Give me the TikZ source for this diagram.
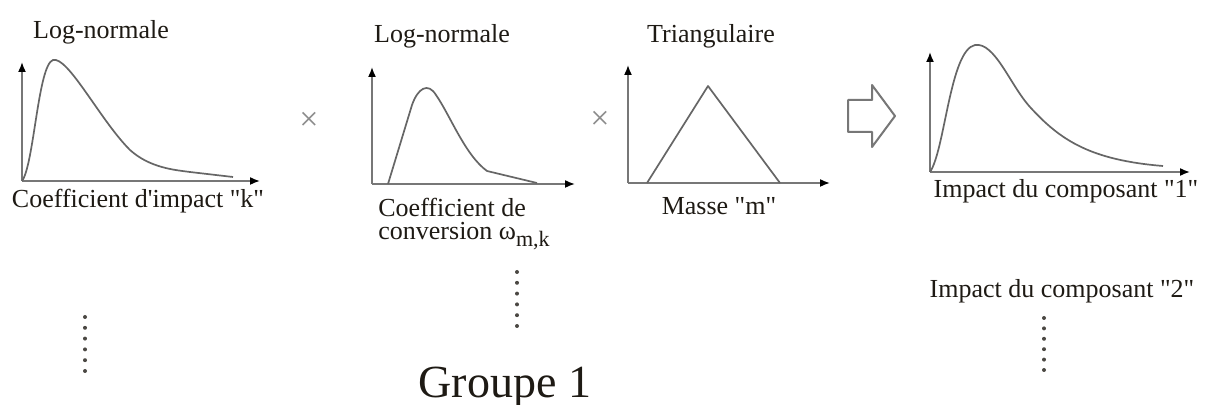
\documentclass[tikz,border=0pt]{standalone}
\usepackage{fontspec}
\setmainfont{Liberation Serif}[Ligatures=TeXOff]
\usetikzlibrary{arrows.meta}
\definecolor{ink}{HTML}{1E1A14}
\definecolor{curve}{HTML}{666666}
\definecolor{axis}{HTML}{777777}

\begin{document}
\begin{tikzpicture}[x=0.5pt, y=-0.5pt, text=ink,
    axe/.style={axis, line width=.8pt, -{Latex[length=5pt, width=4pt, black]}},
    loi/.style={curve, line width=.85pt, line join=round},
    lbl/.style={font=\fontsize{13}{15}\selectfont, inner sep=0pt, anchor=base},
    fois/.style={font=\fontsize{17}{17}\selectfont, text=black!45, inner sep=0pt}]
  \fill[white] (0,0) rectangle (1209,405);
  \useasboundingbox (0,0) rectangle (1209,405);
  % A: impact coefficient -- log-normal
  \begin{scope}[shift={(22,181)}]
    \coordinate (oA) at (0,0);
    \draw[axe] (oA) -- ++(0,-119);
    \draw[axe] (oA) -- ++(238,0);
    \draw[loi] (oA) .. controls (12,-16) and (16,-116) .. (31,-121)
      .. controls (46,-125) and (78,-61) .. (108,-31)
      .. controls (128,-13) and (153,-11) .. (168,-9) -- (211,-4);
    \node[lbl] (loiA) at (79,-142) {Log-normale};
    \node[lbl] (varA) at (116,27) {Coefficient d'impact "k"};
    \foreach \k in {0,...,5} \fill[ink!80] (63,136+\k*10.8) circle (2);
  \end{scope}
  \node[fois] (times1) at (309,121) {×};
  % B: conversion coefficient -- log-normal
  \begin{scope}[shift={(372,184)}]
    \coordinate (oB) at (0,0);
    \draw[axe] (oB) -- ++(0,-117);
    \draw[axe] (oB) -- ++(203,0);
    \draw[loi] (16,0) -- (40,-79) .. controls (46,-96) and (56,-102) .. (64,-89)
      .. controls (78,-69) and (93,-29) .. (115,-13) -- (165,-1);
    \node[lbl] (loiB) at (70,-141) {Log-normale};
    \node[lbl, anchor=base west] (varB) at (6,33) {Coefficient de};
    \node[lbl, anchor=base west] (varB2) at (6,56)
      {conversion ω\raisebox{-3.5pt}{\fontsize{11}{11}\selectfont m,k}};
    \foreach \k in {0,...,5} \fill[ink!80] (145,88+\k*10.8) circle (2);
  \end{scope}
  \node[fois] (times2) at (600,120) {×};
  % C: mass -- triangular
  \begin{scope}[shift={(628,183)}]
    \coordinate (oC) at (0,0);
    \draw[axe] (oC) -- ++(0,-118);
    \draw[axe] (oC) -- ++(202,0);
    \draw[loi] (19,0) -- (80,-97) -- (152,0);
    \node[lbl] (loiC) at (83,-140) {Triangulaire};
    \node[lbl] (varC) at (91,32) {Masse "m"};
  \end{scope}
  % hollow block arrow
  \draw[axis, line width=1pt, line join=round] (848,100) -- (872,100) -- (872,85)
    -- (895,116) -- (872,147) -- (872,132) -- (848,132) -- cycle;
  % D: component impact
  \begin{scope}[shift={(930,172)}]
    \coordinate (oD) at (0,0);
    \draw[axe] (oD) -- ++(0,-120);
    \draw[axe] (oD) -- ++(260,0);
    \draw[loi] (oD) .. controls (15,-22) and (20,-122) .. (45,-127)
      .. controls (65,-130) and (80,-87) .. (100,-65)
      .. controls (130,-32) and (160,-12) .. (233,-6);
    \node[lbl] (resD) at (136,26) {Impact du composant "1"};
    \node[lbl] (resD2) at (132,126) {Impact du composant "2"};
    \foreach \k in {0,...,5} \fill[ink!80] (114,146+\k*10.4) circle (2);
  \end{scope}
  \node[lbl, font=\fontsize{23}{23}\selectfont] (grp) at (505,397) {Groupe 1};
\end{tikzpicture}
\end{document}
